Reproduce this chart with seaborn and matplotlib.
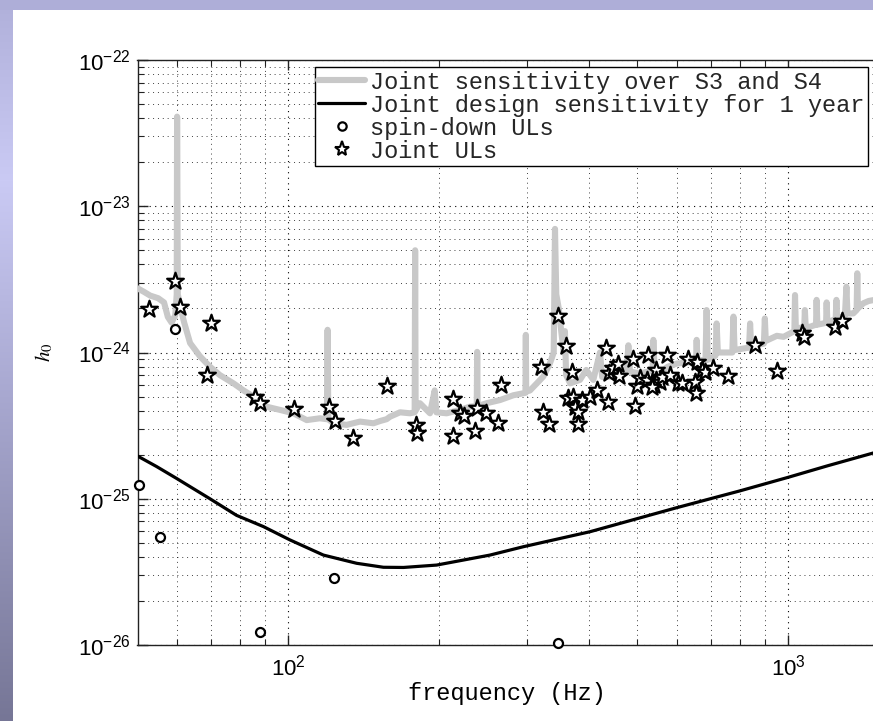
import numpy as np
import matplotlib
matplotlib.use("Agg")
import matplotlib.pyplot as plt
import seaborn as sns
from matplotlib.lines import Line2D
from matplotlib.ticker import FixedLocator, NullFormatter

# ---------------- data ----------------
sens_f = [50.0, 51.5, 53, 55, 56.5, 57.5, 58.5, 59.5, 59.9, 60.0, 60.2, 61, 62, 63.7, 66.7, 69.8,
          73.1, 77.8, 81.5, 85.3, 88, 90.6, 96.4, 102.5, 109, 115.8, 119.6, 120, 120.4, 123.2,
          131, 139.3, 148.2, 152.8, 157.5, 160, 167.5, 175.4, 179.2, 179.6, 180, 183.6, 192.3,
          196.5, 198, 207.6, 220.8, 231, 238.5, 239, 239.5, 249.6, 265.5, 282.3, 298.5, 299,
          299.5, 304.8, 324, 334, 340, 342, 344, 348, 352, 356, 358, 360, 366.7, 383.7, 395,
          408, 420.7, 425, 447.6, 475.8, 479.5, 483, 505.8, 536, 538, 541, 563, 575, 599, 620,
          640, 655, 656.7, 659, 684, 687.5, 691, 716, 720, 724, 774, 778, 782, 836, 840, 844,
          895, 899, 903, 950, 980, 1030, 1033, 1037, 1078, 1081, 1085, 1107, 1138, 1141, 1145,
          1177, 1192, 1195, 1199, 1246, 1250, 1254, 1300, 1309, 1315, 1351, 1372, 1376, 1380,
          1415, 1450, 1500]
sens_h = [2.75e-24, 2.6e-24, 2.45e-24, 2.35e-24, 2.2e-24, 1.75e-24, 1.6e-24, 1.8e-24, 2.5e-24,
          4.1e-23, 2.5e-24, 2.0e-24, 1.6e-24, 1.16e-24, 9.4e-25, 8.0e-25,
          7.0e-25, 6.15e-25, 5.5e-25, 5.0e-25, 4.6e-25, 4.26e-25, 4.05e-25, 3.84e-25, 3.45e-25,
          3.55e-25, 3.5e-25, 1.43e-24, 3.5e-25, 3.28e-25,
          3.2e-25, 3.37e-25, 3.28e-25, 3.4e-25, 3.5e-25, 3.64e-25, 3.9e-25, 3.84e-25, 3.9e-25,
          5.0e-24, 4.0e-25, 4.5e-25, 3.84e-25,
          5.5e-25, 3.9e-25, 3.84e-25, 4.05e-25, 4.26e-25, 4.3e-25, 1.01e-24, 4.3e-25, 4.5e-25,
          4.73e-25, 5.1e-25, 5.3e-25, 1.32e-24,
          5.4e-25, 5.5e-25, 6.84e-25, 8.4e-25, 1.0e-24, 7.0e-24, 2.5e-24, 2.0e-24, 1.4e-24,
          1.0e-24, 1.4e-24, 7.0e-25, 6.15e-25, 6.5e-25, 7.6e-25,
          6.5e-25, 1.0e-24, 6.8e-25, 6.84e-25, 7.6e-25, 1.12e-24, 7.4e-25, 7.2e-25, 7.5e-25,
          1.22e-24, 7.6e-25, 7.6e-25, 8.0e-25, 8.4e-25, 8.5e-25,
          8.6e-25, 8.8e-25, 1.22e-24, 8.8e-25, 8.9e-25, 1.95e-24, 8.9e-25, 9.5e-25, 1.58e-24,
          1.0e-24, 1.0e-24, 1.76e-24, 1.04e-24, 1.08e-24, 1.58e-24, 1.1e-24,
          1.15e-24, 1.71e-24, 1.2e-24, 1.3e-24, 1.28e-24, 1.4e-24, 2.47e-24, 1.45e-24, 1.5e-24,
          1.95e-24, 1.5e-24, 1.5e-24, 1.55e-24, 2.29e-24, 1.55e-24,
          1.58e-24, 1.6e-24, 2.2e-24, 1.6e-24, 1.7e-24, 2.29e-24, 1.7e-24, 1.8e-24, 2.82e-24,
          1.85e-24, 1.85e-24, 1.95e-24, 3.48e-24, 2.0e-24,
          2.17e-24, 2.25e-24, 2.3e-24]

design_f = [50, 54.6, 59.8, 69.8, 78.9, 89.3, 100.9, 117.7, 137.2, 155.2, 170.2, 198.3, 253.5,
            295.7, 401.8, 600, 800, 1000, 1200, 1500]
design_h = [1.96e-25, 1.66e-25, 1.38e-25, 1.0e-25, 7.7e-26, 6.45e-26, 5.23e-26, 4.12e-26,
            3.62e-26, 3.4e-26, 3.39e-26, 3.52e-26, 4.12e-26, 4.7e-26, 5.95e-26, 8.7e-26,
            1.13e-25, 1.4e-25, 1.68e-25, 2.08e-25]

spindown_f = [50.4, 55.5, 59.4, 87.9, 123.6, 347.4]
spindown_h = [1.24e-25, 5.5e-26, 1.44e-24, 1.23e-26, 2.89e-26, 1.04e-26]

ul_f = [52.6, 59.4, 60.8, 70.0, 69.0, 85.9, 87.7, 102.8, 120.9, 124.4, 134.7, 157.5, 180.3,
        180.8, 213.4, 213.4, 220.8, 225, 236.6, 238.6, 248.9, 262.5, 266.7, 320.6, 324.2,
        332.5, 346.3, 359, 370.4, 363.7, 372.2, 375, 380.7, 380.7, 386.7, 401.8, 414.4,
        435.6, 431.6, 439.5, 447.6, 458, 460, 490.6, 494.4, 498.3, 505.8, 525.6, 521.6,
        545.8, 545.8, 540, 555, 535, 560, 571.8, 580.8, 603.5, 612.6, 631.7, 656.7, 651.6,
        654.6, 672, 682, 709, 760, 859, 949, 1065, 1076, 1242, 1281]
ul_h = [1.97e-24, 3.1e-24, 2.04e-24, 1.6e-24, 7.0e-25, 4.99e-25, 4.5e-25, 4.11e-25, 4.22e-25,
        3.4e-25, 2.61e-25, 5.9e-25, 3.19e-25,
        2.83e-25, 4.78e-25, 2.68e-25, 3.84e-25, 3.68e-25, 2.92e-25, 4.15e-25, 3.88e-25,
        3.31e-25, 6.0e-25, 7.9e-25, 3.94e-25,
        3.23e-25, 1.79e-24, 1.1e-24, 7.4e-25, 4.86e-25, 4.99e-25, 4.27e-25, 3.94e-25,
        3.25e-25, 4.73e-25, 4.99e-25, 5.54e-25,
        4.61e-25, 1.07e-24, 7.2e-25, 7.8e-25, 8.4e-25, 6.9e-25, 9.0e-25, 4.3e-25, 5.9e-25,
        6.65e-25, 9.6e-25, 6.5e-25,
        7.6e-25, 6.5e-25, 6.0e-25, 6.3e-25, 5.8e-25, 6.8e-25, 9.6e-25, 7.0e-25, 6.15e-25,
        6.15e-25, 8.97e-25, 8.65e-25, 6.3e-25,
        5.26e-25, 7.6e-25, 7.4e-25, 7.8e-25, 6.9e-25, 1.12e-24, 7.5e-25, 1.35e-24, 1.27e-24,
        1.5e-24, 1.65e-24]

legend_labels = ["Joint sensitivity over S3 and S4",
                 "Joint design sensitivity for 1 year",
                 "spin-down ULs",
                 "Joint ULs"]

x_major = [100, 1000]
x_minor = [60, 70, 80, 90, 200, 300, 400, 500, 600, 700, 800, 900]
y_major = [1e-26, 1e-25, 1e-24, 1e-23, 1e-22]
y_minor = [m * 10.0 ** e for e in range(-26, -22) for m in range(2, 10)]

# ---------------- style ----------------
sns.set_theme(style="ticks")
plt.rcParams["font.family"] = ["Liberation Sans", "DejaVu Sans"]
plt.rcParams["axes.edgecolor"] = "#222222"
plt.rcParams["axes.linewidth"] = 1.0

W, H = 873, 721
fig = plt.figure(figsize=(W / 100, H / 100), dpi=100)
fig.patch.set_facecolor("white")

# decorative frame (lavender bands at top and left)
band_w, band_h = 13, 10
ys = np.linspace(0, 1, H)
stops_y = [0.0, 0.25, 0.55, 1.0]
stops_c = np.array([[176, 176, 218], [202, 202, 244], [168, 168, 208], [118, 118, 150]]) / 255
col = np.stack([np.interp(ys, stops_y, stops_c[:, k]) for k in range(3)], axis=1)
left_img = np.repeat(col[:, None, :], band_w, axis=1)
fig.figimage(left_img, xo=0, yo=0, origin="upper", zorder=0)
top_img = np.ones((band_h, W, 3)) * np.array([174, 174, 216]) / 255
fig.figimage(top_img, xo=0, yo=H - band_h, origin="upper", zorder=0)

# axes geometry (pixels)
ax_l, ax_r, ax_t, ax_b = 137.5, 876, 60, 645
ax = fig.add_axes([ax_l / W, (H - ax_b) / H, (ax_r - ax_l) / W, (ax_b - ax_t) / H])
ax.set_xscale("log")
ax.set_yscale("log")

sns.lineplot(x=sens_f, y=sens_h, ax=ax, color="#c8c8c8", lw=4.4, estimator=None,
             sort=False, legend=False, zorder=3)
sns.lineplot(x=design_f, y=design_h, ax=ax, color="black", lw=2.3, estimator=None,
             sort=False, legend=False, zorder=4)
sns.scatterplot(x=spindown_f, y=spindown_h, ax=ax, marker="o", s=42, color="white",
                edgecolor="black", linewidth=1.6, zorder=5, clip_on=False, legend=False)
sns.scatterplot(x=ul_f, y=ul_h, ax=ax, marker="*", s=160, color="white",
                edgecolor="black", linewidth=1.6, zorder=6, clip_on=False, legend=False)

ax.set_xlim(50, 1500)
ax.set_ylim(1e-26, 1e-22)
ax.xaxis.set_major_locator(FixedLocator(x_major))
ax.xaxis.set_minor_locator(FixedLocator(x_minor))
ax.xaxis.set_minor_formatter(NullFormatter())
ax.yaxis.set_major_locator(FixedLocator(y_major))
ax.yaxis.set_minor_locator(FixedLocator(y_minor))
ax.yaxis.set_minor_formatter(NullFormatter())
ax.set_xticklabels(["$\\mathdefault{10^{%d}}$" % int(round(np.log10(v))) for v in x_major])
ax.set_yticklabels(["$\\mathdefault{10^{%d}}$" % int(round(np.log10(v))) for v in y_major])

# grid
ax.grid(True, which="major", color="black", lw=0.8, ls=(0, (1, 4)))
ax.grid(True, which="minor", color="black", lw=0.7, ls=(0, (1, 4)), alpha=0.75)
ax.set_axisbelow(True)

ax.tick_params(which="both", direction="in", top=True, right=False, bottom=True, left=True,
               colors="#222222")
ax.tick_params(which="major", length=7, width=1.0, labelsize=16, pad=5)
ax.tick_params(which="minor", length=4, width=0.8)
ax.tick_params(axis="x", which="major", pad=7)
for lab in ax.get_xticklabels() + ax.get_yticklabels():
    lab.set_color("black")
ax.spines["right"].set_visible(False)

ax.set_xlabel("frequency (Hz)", family="Liberation Mono", fontsize=17, labelpad=1,
              color="black")
ax.set_ylabel("$h_0$", fontsize=15, math_fontfamily="stix", labelpad=16, color="black")

handles = [Line2D([], [], color="#c8c8c8", lw=4.4),
           Line2D([], [], color="black", lw=2.3),
           Line2D([], [], ls="none", marker="o", mfc="white", mec="black", ms=6, mew=1.6),
           Line2D([], [], ls="none", marker="*", mfc="white", mec="black", ms=11, mew=1.5)]
leg = ax.legend(handles, legend_labels, loc="upper right",
                bbox_to_anchor=(868 / W, (H - 67) / H), bbox_transform=fig.transFigure,
                prop={"family": "Liberation Mono", "size": 17}, frameon=True,
                fancybox=False, edgecolor="black", framealpha=1, borderpad=0.15,
                labelspacing=0.0, handlelength=2.0, handletextpad=0.2, borderaxespad=0)
leg.get_frame().set_linewidth(1.0)
leg.set_zorder(10)

fig.savefig("out.png", dpi=100, facecolor="white")
